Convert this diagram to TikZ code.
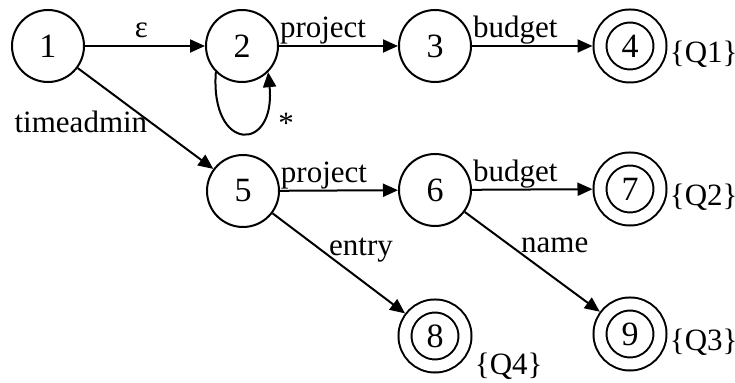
\documentclass[tikz,border=0pt]{standalone}
\usepackage{fontspec}
\setmainfont{Liberation Serif}
\usetikzlibrary{arrows.meta,positioning}

\tikzset{
  state/.style={circle, draw, line width=1pt, minimum size=36pt, inner sep=0pt,
    font=\fontsize{17}{20}\selectfont},
  final/.style={state, double, double distance=5.5pt, minimum size=30pt, outer sep=3.75pt},
  trans/.style={-{Triangle[length=7.5pt,width=6.5pt]}, line width=1pt},
  lbl/.style={inner sep=0pt},
  qset/.style={anchor=west, inner sep=1pt}
}

\begin{document}
\begin{tikzpicture}[x=0.5pt, y=-0.5pt, font=\fontsize{15.5}{18}\selectfont]
  \useasboundingbox (0,0) rectangle (735,383);
  % States
  \node[state] (s1) at (48,46) {1};
  \node[state] (s2) at (242,46) {2};
  \node[state] (s3) at (435,46) {3};
  \node[final] (s4) at (630,46) {4};
  \node[state] (s5) at (243,191) {5};
  \node[state] (s6) at (435,190) {6};
  \node[final] (s7) at (630,189) {7};
  \node[final] (s8) at (435,336) {8};
  \node[final] (s9) at (630,334) {9};
  % Query sets
  \node[qset] (q1) at ([yshift=-4pt]s4.east) {\{Q1\}};
  \node[qset] (q2) at ([yshift=-4pt]s7.east) {\{Q2\}};
  \node[qset] (q3) at ([yshift=-4pt]s9.east) {\{Q3\}};
  \node[qset] (q4) at ([yshift=-15pt]s8.east) {\{Q4\}};
  % Transitions
  \draw[trans] (s1) -- node[lbl, pos=0.47, anchor=base, yshift=4pt] {ε} (s2);
  \draw[trans] (s2) -- node[lbl, pos=0, anchor=base west, yshift=4pt] {project} (s3);
  \draw[trans] (s3) -- node[lbl, pos=0, anchor=base west, yshift=4pt] {budget} (s4);
  \draw[trans] (s5) -- node[lbl, pos=0, anchor=base west, yshift=4pt] {project} (s6);
  \draw[trans] (s6) -- node[lbl, pos=0, anchor=base west, yshift=4pt] {budget} (s7);
  \draw[trans] (s1) -- node[lbl, pos=0.52, anchor=base east, yshift=-6pt] {timeadmin} (s5);
  \draw[trans] (s5) -- node[lbl, pos=0.42, anchor=base west] {entry} (s8);
  \draw[trans] (s6) -- node[lbl, pos=0.41, anchor=base west] {name} (s9);
  % Self loop
  \draw[trans] (s2.225) .. controls (210,153) and (276,153) .. (s2.315);
  \node (star) at (286,123) {*};
\end{tikzpicture}
\end{document}
